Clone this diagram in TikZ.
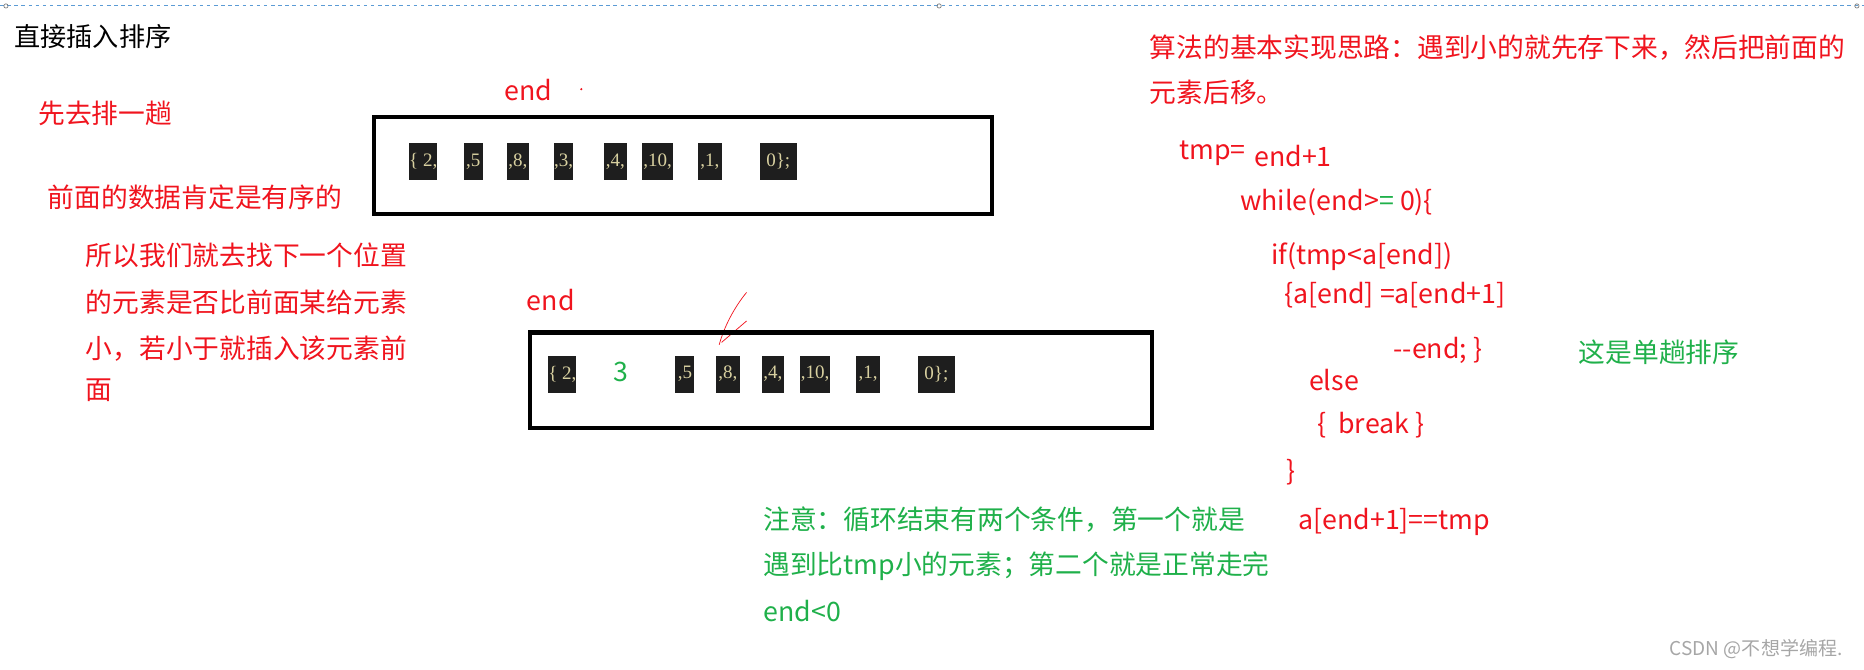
\documentclass[tikz,border=0pt]{standalone}
\usepackage{fontspec}
\setmainfont{Noto Sans CJK SC}
\newfontfamily\ser{Liberation Serif}
\definecolor{rd}{HTML}{F0141E}
\definecolor{gr}{HTML}{1FB04A}
\definecolor{cellbg}{HTML}{1E1E1E}
\definecolor{celltx}{HTML}{D8D0A0}
\definecolor{bl}{HTML}{5B9BD5}
\tikzset{
 t/.style={anchor=west,inner sep=0pt,font=\fontsize{22.5}{26}\selectfont},
 red/.style={t,text=rd},
 grn/.style={t,text=gr},
 cell/.style={fill=cellbg,text=celltx,font=\ser\fontsize{16}{18}\selectfont,inner sep=0pt,anchor=north west},
}
\begin{document}
\begin{tikzpicture}[x=1pt,y=-1pt]
\useasboundingbox (0,0) rectangle (1568,563);
\draw[bl,dashed,line width=0.8pt] (0,5) -- (1568,5);
\foreach \xx in {5,790,1562} \draw[gray,line width=0.6pt] (\xx,5) circle (1.8);
\node[t,text=black,font=\fontsize{22}{26}\selectfont] (title) at (12,31) {直接插入排序};
\node[red] (n1) at (32,95) {先去排一趟};
\node[red] (n2) at (40,166) {前面的数据肯定是有序的};
\node[red] (n3) at (72,215) {所以我们就去找下一个位置};
\node[red] (n4) at (72,254) {的元素是否比前面某给元素};
\node[red] (n5) at (72,293) {小，若小于就插入该元素前};
\node[red] (n6) at (72,328) {面};
\node[red] (e1) at (424,76) {end};
\fill[rd] (489,75) circle (1);
\node[draw,line width=3.5pt,minimum width=520pt,minimum height=81pt,anchor=north west] (b1) at (313,97) {};
\foreach \a/\b/\s in {344/367/{\{ 2,},390/406/{,5},426/445/{,8,},466/482/{,3,},508/527/{,4,},540/566/{,10,},587/607/{,1,},639/670/{0\};}}
  \node[cell,minimum width=\b-\a,minimum height=31pt] at (\a,120) {\s};
\node[red] (e2) at (443,252) {end};
\draw[rd,line width=0.6pt] (628,246) .. controls (618,258) and (609,275) .. (605,290);
\draw[rd,line width=0.6pt] (628,270) -- (607,288);
\node[draw,line width=3.5pt,minimum width=523pt,minimum height=80pt,anchor=north west] (b2) at (444,278) {};
\foreach \a/\b/\s in {461/482/{\{ 2,},568/584/{,5},602/622/{,8,},641/659/{,4,},673/698/{,10,},720/740/{,1,},772/803/{0\};}}
  \node[cell,minimum width=\b-\a,minimum height=31pt] at (\a,299) {\s};
\node[grn] (three) at (516,313) {3};
\node[red] (r1) at (967,40) {算法的基本实现思路：遇到小的就先存下来，然后把前面的};
\node[red] (r2) at (967,78) {元素后移。};
\node[red] (c1) at (992,129) {tmp=};
\node[red] (c1b) at (1055,131) {end+1};
\node[red] (c2) at (1043,170) {while(end>\textcolor{gr}{=} 0)\{};
\node[red] (c3) at (1069,216) {if(tmp<a[end])};
\node[red] (c4) at (1080,248) {\{a[end] =a[end+1]};
\node[red] (c5) at (1172,295) {-{}-end; \}};
\node[red] (c6) at (1101,320) {else};
\node[red] (c7) at (1108,358) {\{\ \ break \}};
\node[red] (c8) at (1082,397) {\}};
\node[red] (c9) at (1092,439) {a[end+1]==tmp};
\node[grn] (g1) at (1328,296) {这是单趟排序};
\node[grn] (g2) at (642,437) {注意：循环结束有两个条件，第一个就是};
\node[grn] (g3) at (642,476) {遇到比tmp小的元素；第二个就是正常走完};
\node[grn] (g4) at (642,514) {end<0};
\node[t,anchor=east,text=gray!70,font=\fontsize{16}{18}\selectfont] (csdn) at (1550,546) {CSDN @不想学编程.};
\end{tikzpicture}
\end{document}
